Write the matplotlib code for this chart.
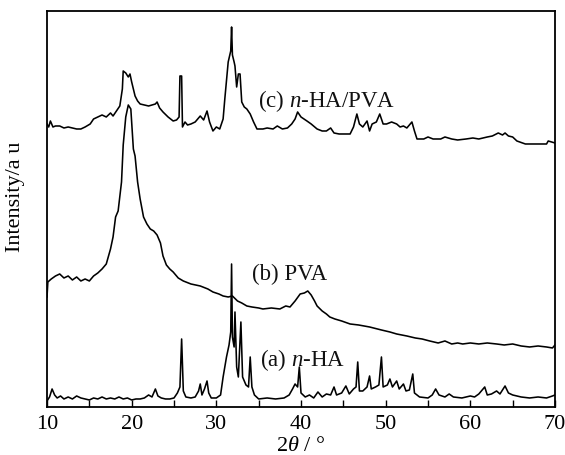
import matplotlib
matplotlib.use("Agg")
import matplotlib.pyplot as plt
from matplotlib.ticker import MultipleLocator

plt.rcParams['font.family'] = ['Liberation Serif', 'DejaVu Serif']
plt.rcParams['mathtext.fontset'] = 'custom'
plt.rcParams['mathtext.rm'] = 'Liberation Serif'
plt.rcParams['mathtext.it'] = 'Liberation Serif:italic'

# (a) n-HA
a_x = [10.0, 10.3, 10.6, 10.9, 11.2, 11.6, 12.0, 12.5, 13.0, 13.5, 14.0, 14.5, 15.0, 15.5, 16.0, 16.5,
       17.0, 17.5, 18.0, 18.5, 19.0, 19.5, 20.0, 20.5, 21.0, 21.5, 22.0, 22.4, 22.8, 23.1, 23.5, 24.0,
       24.5, 25.0, 25.4, 25.7, 25.9, 26.1, 26.4, 27.0, 27.5, 27.9, 28.1, 28.3, 28.6, 28.9, 29.1, 29.4,
       30.0, 30.5, 30.8, 31.2, 31.5, 31.7, 31.8, 31.9, 32.1, 32.2, 32.4, 32.6, 32.9, 33.1, 33.5, 33.8,
       34.0, 34.2, 34.5, 35.0, 36.0, 37.0, 38.0, 38.6, 39.0, 39.3, 39.6, 39.8, 40.0, 40.5, 41.0, 41.5,
       42.0, 42.5, 43.0, 43.5, 43.9, 44.2, 44.8, 45.3, 45.7, 46.2, 46.5, 46.7, 46.9, 47.3, 47.8, 48.1,
       48.3, 48.8, 49.2, 49.5, 49.7, 50.2, 50.5, 50.8, 51.3, 51.6, 52.1, 52.4, 52.8, 53.2, 53.4, 54.0,
       55.0, 55.5, 55.9, 56.3, 57.0, 57.5, 58.0, 59.0, 60.0, 60.5, 61.0, 61.7, 62.0, 62.5, 63.1, 63.5,
       64.1, 64.5, 65.0, 66.0, 67.0, 68.0, 69.0, 69.7, 70.0]
a_y = [6, 10, 18, 12, 9, 11, 8, 10, 8, 11, 9, 8, 7, 9, 8, 10,
       8, 9, 8, 10, 8, 9, 7, 8, 8, 9, 12, 10, 18, 11, 9, 8,
       8, 9, 14, 20, 68, 16, 10, 9, 10, 16, 23, 12, 18, 26, 14, 9,
       9, 12, 30, 50, 62, 75, 143, 70, 60, 95, 40, 30, 85, 30, 22, 20,
       50, 20, 12, 8, 9, 8, 9, 12, 18, 23, 20, 40, 14, 10, 12, 9,
       15, 10, 13, 12, 20, 12, 14, 21, 13, 18, 20, 45, 16, 16, 20, 31,
       18, 20, 22, 50, 20, 22, 28, 20, 26, 18, 23, 16, 17, 33, 14, 10,
       9, 12, 18, 12, 10, 13, 10, 9, 11, 10, 13, 20, 12, 13, 16, 13,
       21, 14, 12, 10, 9, 10, 9, 11, 12]

# (b) PVA
b_x = [10.0, 10.1, 10.5, 11.0, 11.5, 12.0, 12.5, 13.0, 13.5, 14.0, 14.5, 15.0, 15.5, 16.0, 16.5, 17.0,
       17.5, 17.8, 18.1, 18.4, 18.8, 19.0, 19.3, 19.6, 19.9, 20.2, 20.4, 20.7, 21.0, 21.4, 21.8, 22.2,
       22.6, 23.0, 23.4, 23.7, 24.1, 24.5, 24.9, 25.5, 26.1, 27.0, 28.1, 29.0, 29.6, 30.3, 30.8, 31.4,
       31.9, 32.5, 33.0, 33.6, 34.2, 35.0, 35.5, 36.5, 37.5, 38.2, 38.7, 39.3, 39.9, 40.4, 40.8, 41.2,
       41.6, 41.9, 42.5, 43.0, 43.4, 44.0, 44.8, 45.8, 46.8, 48.1, 49.5, 50.5, 51.3, 52.5, 53.5, 54.3,
       55.2, 56.2, 57.0, 57.8, 58.5, 59.1, 60.0, 61.0, 62.0, 63.1, 64.0, 65.0, 66.0, 67.0, 68.0, 69.0,
       69.7, 70.0]
b_y = [110, 125, 128, 131, 133, 129, 131, 127, 130, 126, 128, 126, 131, 134, 138, 143,
       158, 170, 190, 196, 225, 262, 290, 302, 298, 258, 251, 225, 208, 190, 183, 178,
       176, 172, 164, 151, 142, 138, 135, 129, 126, 123, 121, 118, 115, 113, 111, 110,
       111, 106, 104, 101, 100, 99, 98, 99, 98, 101, 100, 106, 113, 114, 116, 112,
       106, 101, 96, 93, 90, 88, 86, 83, 82, 80, 77, 75, 73, 71, 69, 68,
       66, 64, 66, 63, 64, 63, 64, 63, 64, 63, 62, 63, 61, 60, 61, 60,
       59, 62]

# (c) n-HA/PVA
c_x = [10.0, 10.2, 10.4, 10.7, 11.0, 11.5, 12.0, 12.5, 13.0, 13.5, 14.0, 14.5, 15.1, 15.5, 16.0, 16.5,
       17.0, 17.5, 17.8, 18.2, 18.6, 18.9, 19.0, 19.3, 19.6, 19.8, 20.0, 20.4, 20.7, 21.0, 21.5, 22.0,
       22.4, 22.8, 23.0, 23.3, 23.7, 24.3, 24.9, 25.3, 25.6, 25.7, 25.9, 26.0, 26.3, 26.6, 27.0, 27.5,
       28.1, 28.5, 28.9, 29.2, 29.6, 30.0, 30.4, 30.8, 31.0, 31.4, 31.7, 31.8, 31.9, 32.1, 32.2, 32.4,
       32.6, 32.8, 33.0, 33.3, 33.6, 34.0, 34.4, 34.8, 35.5, 36.0, 36.7, 37.2, 37.8, 38.4, 38.9, 39.3,
       39.6, 40.0, 40.7, 41.2, 41.9, 42.5, 43.0, 43.5, 43.9, 44.5, 45.2, 45.8, 46.2, 46.6, 46.9, 47.3,
       47.8, 48.1, 48.4, 48.9, 49.3, 49.7, 50.1, 50.7, 51.3, 51.7, 52.1, 52.5, 53.1, 53.4, 53.7, 54.5,
       55.0, 55.6, 56.5, 57.0, 57.8, 58.5, 59.5, 60.3, 61.0, 62.0, 62.6, 63.3, 63.8, 64.1, 64.5, 65.0,
       65.5, 66.5, 67.5, 68.5, 69.0, 69.2, 69.6, 70.0]
c_y = [283, 280, 286, 280, 281, 281, 279, 280, 279, 278, 278, 280, 283, 288, 290, 292,
       290, 294, 291, 296, 301, 318, 336, 334, 330, 333, 325, 311, 306, 303, 302, 301,
       302, 303, 305, 299, 295, 290, 286, 287, 290, 331, 331, 280, 285, 282, 283, 285,
       291, 287, 296, 285, 276, 280, 278, 288, 308, 345, 356, 380, 352, 345, 341, 320,
       333, 333, 305, 300, 298, 293, 285, 278, 278, 279, 278, 281, 278, 279, 283, 288,
       295, 290, 286, 283, 278, 276, 276, 279, 274, 273, 273, 273, 280, 293, 283, 280,
       286, 276, 283, 285, 293, 283, 283, 285, 283, 280, 281, 279, 285, 276, 268, 268,
       270, 268, 268, 270, 268, 267, 268, 269, 268, 270, 271, 274, 272, 274, 271, 270,
       266, 263, 263, 263, 263, 266, 265, 264]

labels = ["(a) $\\it{n}$-HA", "(b) PVA", "(c) $\\it{n}$-HA/PVA"]
label_pos = [(35.2, 48), (34.2, 134), (34.9, 307)]

fig = plt.figure(figsize=(5.65, 4.56), dpi=100)
ax = fig.add_axes([0.0832, 0.1053, 0.8991, 0.8684])

for xs, ys in [(a_x, a_y), (b_x, b_y), (c_x, c_y)]:
    ax.plot(xs, ys, color='black', lw=1.15)

for txt, (lx, ly) in zip(labels, label_pos):
    ax.text(lx, ly, txt, fontsize=16.5, ha='left', va='center', color='#111111')

ax.set_xlim(10, 70)
ax.set_ylim(0, 396)
ax.xaxis.set_major_locator(MultipleLocator(10))
ax.xaxis.set_minor_locator(MultipleLocator(5))
ax.tick_params(axis='x', which='both', direction='in', length=5, width=1.0, labelsize=16, pad=5)
ax.tick_params(axis='y', which='both', left=False, labelleft=False)
for sp in ax.spines.values():
    sp.set_linewidth(1.3)

ax.set_xlabel("2$\\it{\\theta}$ / °", fontsize=16)
ax.xaxis.set_label_coords(0.5, -0.074)
ax.set_ylabel("Intensity/a u", fontsize=16)
ax.yaxis.set_label_coords(-0.043, 0.533)

fig.savefig("out.png", dpi=100)
